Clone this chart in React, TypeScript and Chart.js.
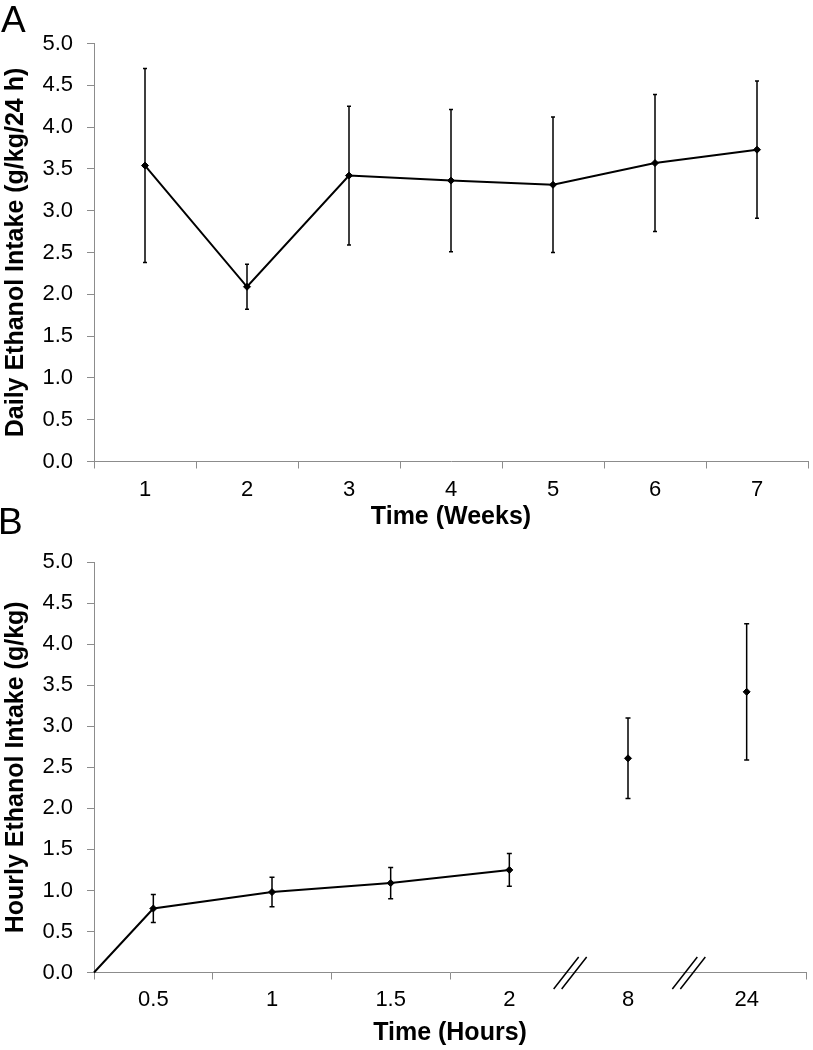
import React, { useEffect, useRef } from 'react';
import { Chart, registerables } from 'chart.js';

Chart.register(...registerables);

// ---------- data ----------
const weekLabels = ['1', '2', '3', '4', '5', '6', '7'];
const weeklyIntake = [3.54, 2.09, 3.42, 3.36, 3.31, 3.57, 3.73];
const weeklySem = [1.16, 0.27, 0.83, 0.85, 0.81, 0.82, 0.82];

const hourLabels = ['0.5', '1', '1.5', '2', '8', '24'];
const hourlyIntake = [0.78, 0.98, 1.09, 1.25, 2.61, 3.42];
const hourlySem = [0.17, 0.18, 0.19, 0.2, 0.49, 0.83];
const connectedCount = 4; // first four time points are joined (from the origin)
const brokenBefore = ['8', '24']; // axis break marks placed before these labels

const yTitleA = 'Daily Ethanol Intake (g/kg/24 h)';
const yTitleB = 'Hourly Ethanol Intake (g/kg)';
const xTitleA = 'Time (Weeks)';
const xTitleB = 'Time (Hours)';

// ---------- styles ----------
const FONT = "'Liberation Sans', Arial, Helvetica, sans-serif";
const AXIS_GRAY = '#8c8c8c';

const errorBarPlugin = {
  id: 'errorBars',
  afterDatasetsDraw(chart: any) {
    const ctx = chart.ctx;
    const yS = chart.scales.y;
    chart.data.datasets.forEach((ds: any, d: number) => {
      if (!ds.errors) return;
      const meta = chart.getDatasetMeta(d);
      meta.data.forEach((pt: any, i: number) => {
        const e = ds.errors[i];
        if (e == null) return;
        const raw = ds.data[i];
        const v = typeof raw === 'number' ? raw : raw.y;
        const top = yS.getPixelForValue(v + e);
        const bot = yS.getPixelForValue(v - e);
        const cap = ds.capHalf ?? 2;
        ctx.save();
        ctx.strokeStyle = '#000';
        ctx.lineWidth = 1.5;
        ctx.beginPath();
        ctx.moveTo(pt.x, top);
        ctx.lineTo(pt.x, bot);
        ctx.moveTo(pt.x - cap, top);
        ctx.lineTo(pt.x + cap, top);
        ctx.moveTo(pt.x - cap, bot);
        ctx.lineTo(pt.x + cap, bot);
        ctx.stroke();
        ctx.restore();
      });
    });
  },
};

const breakMarkPlugin = {
  id: 'breakMarks',
  afterDraw(chart: any) {
    const xs = chart.scales.x;
    const ys = chart.scales.y;
    const ctx = chart.ctx;
    const y0 = ys.getPixelForValue(0);
    brokenBefore.forEach((lab) => {
      const idx = hourLabels.indexOf(lab);
      const cx = xs.getPixelForValue(idx) + 1.5;
      ctx.save();
      ctx.strokeStyle = '#000';
      ctx.lineWidth = 1.5;
      ctx.beginPath();
      [-4, 4].forEach((o) => {
        ctx.moveTo(cx + o - 12.5, y0 + 16.5);
        ctx.lineTo(cx + o + 12.5, y0 - 15.5);
      });
      ctx.stroke();
      ctx.restore();
    });
  },
};

const tickFont = { family: FONT, size: 22 };
const xTitleFont = { family: FONT, size: 25, weight: 'bold' };

const yScale = (title: string) => ({
  min: 0,
  max: 5,
  afterFit: (s: any) => {
    s.width = 94;
  },
  ticks: {
    stepSize: 0.5,
    padding: 14,
    color: '#000',
    font: tickFont,
    callback: (v: any) => Number(v).toFixed(1),
  },
  grid: {
    drawOnChartArea: false,
    drawTicks: true,
    tickLength: 7,
    color: AXIS_GRAY,
    tickColor: AXIS_GRAY,
  },
  border: { display: true, color: AXIS_GRAY, width: 1 },
  title: {
    display: true,
    text: title,
    color: '#000',
    font: { family: FONT, size: 25, weight: 'bold' },
    padding: { top: 1, bottom: 0 },
  },
});

const lineStyle = {
  borderColor: '#000',
  borderWidth: 2,
  pointStyle: 'rectRot',
  pointBackgroundColor: '#000',
  pointBorderColor: '#000',
  pointBorderWidth: 1,
  tension: 0,
  fill: false,
  clip: 10,
};

function ChartA() {
  const ref = useRef<HTMLCanvasElement>(null);
  useEffect(() => {
    const chart = new Chart(ref.current as HTMLCanvasElement, {
      type: 'line',
      data: {
        labels: weekLabels,
        datasets: [
          {
            ...lineStyle,
            data: weeklyIntake,
            errors: weeklySem,
            capHalf: 2,
            pointRadius: 3.5,
          } as any,
        ],
      },
      options: {
        responsive: false,
        animation: false,
        devicePixelRatio: 1,
        events: [],
        layout: { padding: { top: 43.5, right: 0.5, left: 0, bottom: 0 } },
        plugins: { legend: { display: false }, tooltip: { enabled: false } },
        scales: {
          x: {
            type: 'category',
            offset: true,
            afterFit: (s: any) => {
              s.height = 73.5;
            },
            grid: {
              offset: true,
              drawOnChartArea: false,
              tickLength: 7,
              color: AXIS_GRAY,
            },
            border: { display: true, color: AXIS_GRAY, width: 1 },
            ticks: { padding: 8, color: '#000', font: tickFont, maxRotation: 0, autoSkip: false },
            title: {
              display: true,
              text: xTitleA,
              color: '#000',
              font: xTitleFont,
              padding: { top: 0, bottom: 3 },
            },
          },
          y: yScale(yTitleA) as any,
        },
      } as any,
      plugins: [errorBarPlugin],
    });
    return () => chart.destroy();
  }, []);
  return <canvas ref={ref} width={813} height={535} style={{ display: 'block' }} />;
}

function ChartB() {
  const ref = useRef<HTMLCanvasElement>(null);
  useEffect(() => {
    const positions = hourLabels.map((_, i) => i + 0.5);
    const joined = [{ x: 0, y: 0 }].concat(
      positions.slice(0, connectedCount).map((x, i) => ({ x, y: hourlyIntake[i] }))
    );
    const loose = positions.slice(connectedCount).map((x, i) => ({ x, y: hourlyIntake[connectedCount + i] }));
    const breakValues = brokenBefore.map((l) => hourLabels.indexOf(l));
    const chart = new Chart(ref.current as HTMLCanvasElement, {
      type: 'line',
      data: {
        datasets: [
          {
            ...lineStyle,
            data: joined,
            errors: [null, ...hourlySem.slice(0, connectedCount)],
            capHalf: 2.5,
            pointRadius: joined.map((_, i) => (i === 0 ? 0 : 3.5)),
          } as any,
          {
            ...lineStyle,
            showLine: false,
            data: loose,
            errors: hourlySem.slice(connectedCount),
            capHalf: 2.5,
            pointRadius: 3.5,
          } as any,
        ],
      },
      options: {
        responsive: false,
        animation: false,
        devicePixelRatio: 1,
        events: [],
        layout: { padding: { top: 19, right: 3.5, left: 0, bottom: 0 } },
        plugins: { legend: { display: false }, tooltip: { enabled: false } },
        scales: {
          x: {
            type: 'linear',
            min: 0,
            max: hourLabels.length,
            afterFit: (s: any) => {
              s.height = 77.5;
            },
            afterBuildTicks: (s: any) => {
              s.ticks = Array.from({ length: hourLabels.length * 2 + 1 }, (_, k) => ({ value: k / 2 }));
            },
            grid: {
              drawOnChartArea: false,
              tickLength: 7,
              color: AXIS_GRAY,
              tickColor: (c: any) => {
                const v = c.tick ? c.tick.value : 0;
                return Number.isInteger(v) && !breakValues.includes(v) ? AXIS_GRAY : 'rgba(0,0,0,0)';
              },
            },
            border: { display: true, color: AXIS_GRAY, width: 1 },
            ticks: {
              padding: 7,
              color: '#000',
              font: tickFont,
              maxRotation: 0,
              autoSkip: false,
              callback: (v: any) => {
                const i = Number(v) - 0.5;
                return Number.isInteger(i) ? hourLabels[i] : '';
              },
            },
            title: {
              display: true,
              text: xTitleB,
              color: '#000',
              font: xTitleFont,
              padding: { top: 0, bottom: 2 },
            },
          },
          y: yScale(yTitleB) as any,
        },
      } as any,
      plugins: [errorBarPlugin, breakMarkPlugin],
    });
    return () => chart.destroy();
  }, []);
  return <canvas ref={ref} width={813} height={515} style={{ display: 'block' }} />;
}

const panelLetter: React.CSSProperties = {
  position: 'absolute',
  fontFamily: FONT,
  fontSize: 37,
  lineHeight: 1,
  color: '#000',
};

export default function App() {
  return (
    <div
      style={{
        position: 'absolute',
        left: 0,
        top: 0,
        width: 813,
        height: 1050,
        background: '#fff',
        overflow: 'hidden',
      }}
    >
      <div style={{ position: 'absolute', left: 0, top: 0 }}>
        <ChartA />
      </div>
      <div style={{ position: 'absolute', left: 0, top: 535 }}>
        <ChartB />
      </div>
      <div style={{ ...panelLetter, left: 1, top: 1 }}>A</div>
      <div style={{ ...panelLetter, left: -2, top: 503 }}>B</div>
    </div>
  );
}
